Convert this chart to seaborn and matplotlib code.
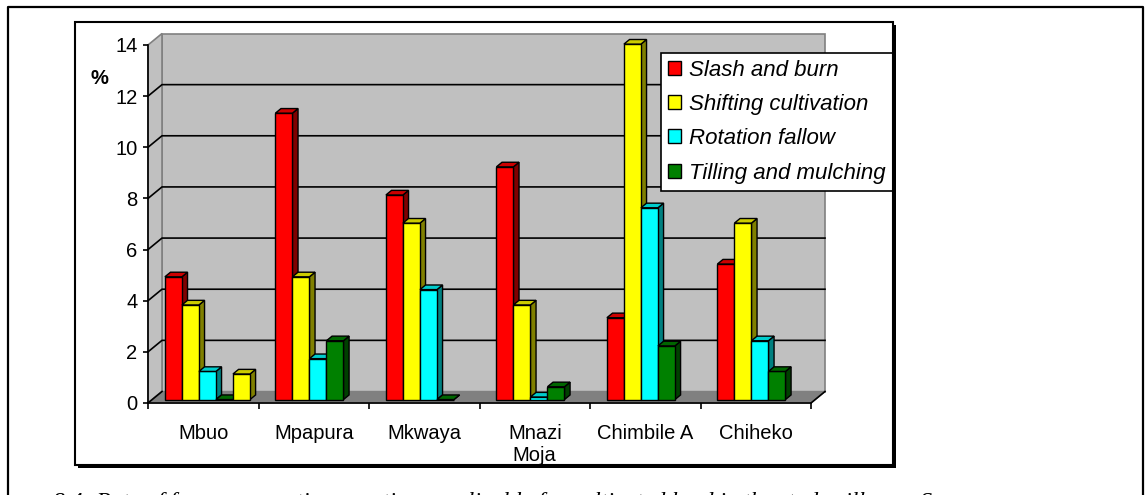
import numpy as np
import pandas as pd
import matplotlib
matplotlib.use("Agg")
import matplotlib.pyplot as plt
import matplotlib.colors as mcolors
from matplotlib.patches import Rectangle, Polygon
from matplotlib.lines import Line2D
from matplotlib.transforms import Affine2D
import seaborn as sns

# ---- data -------------------------------------------------------------
villages = ["Mbuo", "Mpapura", "Mkwaya", "Mnazi\nMoja", "Chimbile A", "Chiheko"]
practices = ["Slash and burn", "Shifting cultivation", "Rotation fallow",
             "Tilling and mulching"]
slash_and_burn = [4.8, 11.2, 8.0, 9.1, 3.2, 5.3]
shifting_cultivation = [3.7, 4.8, 6.9, 3.7, 13.9, 6.9]
rotation_fallow = [1.1, 1.6, 4.3, 0.1, 7.5, 2.3]
tilling_and_mulching = [0.0, 2.3, 0.0, 0.5, 2.1, 1.1]
# fifth, unlabelled column that only carries a value for Mbuo
other = [1.0, np.nan, np.nan, np.nan, np.nan, np.nan]
y_ticks = [0, 2, 4, 6, 8, 10, 12, 14]
caption = ("8.4: Rate of farm preparation practices applicable for cultivated "
           "land in the study villages, Songea")

series = {
    "Slash and burn": slash_and_burn,
    "Shifting cultivation": shifting_cultivation,
    "Rotation fallow": rotation_fallow,
    "Tilling and mulching": tilling_and_mulching,
    "Other": other,
}
hue_order = practices + ["Other"]
rows = [(v, name, val) for name, vals in series.items()
        for v, val in zip(villages, vals)]
df = pd.DataFrame(rows, columns=["village", "practice", "pct"]).dropna()

# face colours: front, top, side
front = {"Slash and burn": "#FF0000", "Shifting cultivation": "#FFFF00",
         "Rotation fallow": "#00FFFF", "Tilling and mulching": "#008000",
         "Other": "#FFFF00"}
shade = {"#ff0000": ("#CC0000", "#800000"),
         "#ffff00": ("#CCCC00", "#808000"),
         "#00ffff": ("#00CCCC", "#008080"),
         "#008000": ("#006600", "#004000")}

# ---- figure -------------------------------------------------------------
W, H = 1146, 495
fig = plt.figure(figsize=(W / 100, H / 100), dpi=100)
fig.patch.set_facecolor("white")
px = Affine2D().scale(1 / W, -1 / H).translate(0, 1) + fig.transFigure

# plot front plane: x 148..811 px, y 403 (0) .. 45 (14) px
ax = fig.add_axes([148 / W, (H - 403) / H, 663 / W, 358 / H])
ax.patch.set_visible(False)

sns.barplot(data=df, x="village", y="pct", hue="practice", hue_order=hue_order,
            order=villages, palette=front, saturation=1, width=0.77,
            dodge=True, errorbar=None, edgecolor="black", linewidth=1,
            legend=False, ax=ax)
bars = [p for p in ax.patches if np.isfinite(p.get_height())]

ax.set_xlim(-0.5, 5.5)
ax.set_ylim(0, 14)

UX = 663 / 6          # px per category
UY = 358 / 14         # px per percent
DX, DY = 14 / UX, 11.5 / UY            # full depth of the box
FX, FY = 0.30 * DX, 0.30 * DY          # front of the bars
BX, BY = 0.40 * DX, 0.40 * DY          # depth of the bars

wall = "#C0C0C0"
edge_grey = "#808080"
# back wall, left wall and floor
ax.add_patch(Rectangle((-0.5 + DX, DY), 6, 14, facecolor=wall,
                       edgecolor=edge_grey, lw=1.2, zorder=0.5, clip_on=False))
ax.add_patch(Polygon([(-0.5, 0), (-0.5, 14), (-0.5 + DX, 14 + DY), (-0.5 + DX, DY)],
                     closed=True, facecolor=wall, edgecolor=edge_grey, lw=1.2,
                     zorder=0.6, clip_on=False))
ax.add_patch(Polygon([(-0.5, 0), (5.5, 0), (5.5 + DX, DY), (-0.5 + DX, DY)],
                     closed=True, facecolor="#808080", edgecolor="#808080",
                     lw=1, zorder=0.6, clip_on=False))
# gridlines on the back and side walls
for t in y_ticks[1:-1]:
    ax.plot([-0.5, -0.5 + DX, 5.5 + DX], [t, t + DY, t + DY], color="black",
            lw=1.2, zorder=0.8, clip_on=False)
ax.plot([-0.5, -0.5 + DX], [0, DY], color="black", lw=1.2, zorder=0.9,
        clip_on=False)
ax.plot([5.5, 5.5 + DX], [0, DY], color="black", lw=1.2, zorder=0.9,
        clip_on=False)

# extrude the seaborn bars into boxes
bars.sort(key=lambda p: p.get_x())
for i, p in enumerate(bars):
    x0, w, h = p.get_x() + FX, p.get_width(), p.get_height()
    p.set_x(x0)
    p.set_y(FY)
    z = 3 + i * 0.01
    p.set_zorder(z + 0.005)
    p.set_clip_on(False)
    top_c, side_c = shade[mcolors.to_hex(p.get_facecolor())]
    ax.add_patch(Polygon([(x0 + w, FY), (x0 + w + BX, FY + BY),
                          (x0 + w + BX, FY + h + BY), (x0 + w, FY + h)],
                         closed=True, facecolor=side_c, edgecolor="black",
                         lw=1, zorder=z, clip_on=False))
    ax.add_patch(Polygon([(x0, FY + h), (x0 + w, FY + h),
                          (x0 + w + BX, FY + h + BY), (x0 + BX, FY + h + BY)],
                         closed=True, facecolor=top_c, edgecolor="black",
                         lw=1, zorder=z + 0.006, clip_on=False))

# axes, ticks and labels
for s in ("top", "right"):
    ax.spines[s].set_visible(False)
for s in ("left", "bottom"):
    ax.spines[s].set_color("black")
    ax.spines[s].set_linewidth(1.2)
ax.set_yticks(y_ticks)
ax.set_xticks(range(len(villages)))
ax.set_xticklabels(villages)
ax.set_xticks(np.arange(-0.5, 6, 1), minor=True)
ax.set_xlabel("")
ax.set_ylabel("")
for lab in ax.get_xticklabels() + ax.get_yticklabels():
    lab.set_fontfamily("Liberation Sans")
    lab.set_fontsize(14.5)
ax.tick_params(axis="x", which="major", length=0, pad=15)
ax.tick_params(axis="x", which="minor", length=4.5, width=1.2, direction="out")
ax.tick_params(axis="y", length=3.6, width=1.2, direction="out", pad=4)
ax.grid(False)

fig.text(99 / W, 1 - 79 / H, "%", fontweight="bold", fontsize=14.5,
         family="Liberation Sans", ha="center", va="center")

# legend
handles = [Rectangle((0, 0), 1, 1, facecolor=front[k], edgecolor="black", lw=1)
           for k in practices]
leg = ax.legend(handles, practices, loc="upper left",
                bbox_to_anchor=(661 / W, 1 - 52.5 / H),
                bbox_transform=fig.transFigure, borderaxespad=0,
                prop=dict(family="Liberation Sans", style="italic", size=16),
                frameon=True, fancybox=False, framealpha=1, edgecolor="black",
                borderpad=0.32, labelspacing=0.6, handlelength=0.6,
                handleheight=0.6, handletextpad=0.35)
leg.get_frame().set_linewidth(1.2)
leg.set_zorder(10)

# chart frame with its drop shadow, and the page frame
fig.add_artist(Rectangle((75, 22), 818, 443, transform=px, fill=False,
                         edgecolor="black", lw=1.5, zorder=5))
fig.add_artist(Rectangle((893, 25), 3, 443, transform=px, facecolor="black",
                         edgecolor="none", zorder=5))
fig.add_artist(Rectangle((78, 465), 818, 3, transform=px, facecolor="black",
                         edgecolor="none", zorder=5))
fig.add_artist(Line2D([8, 8, 1143, 1143], [500, 6.5, 6.5, 500], transform=px,
                      color="black", lw=1.6, zorder=5))

# figure caption, running off the bottom of the page
fig.text(53 / W, 1 - 508 / H, caption, family="Liberation Serif",
         style="italic", size=17, va="baseline", ha="left")

fig.savefig("out.png", dpi=100)
